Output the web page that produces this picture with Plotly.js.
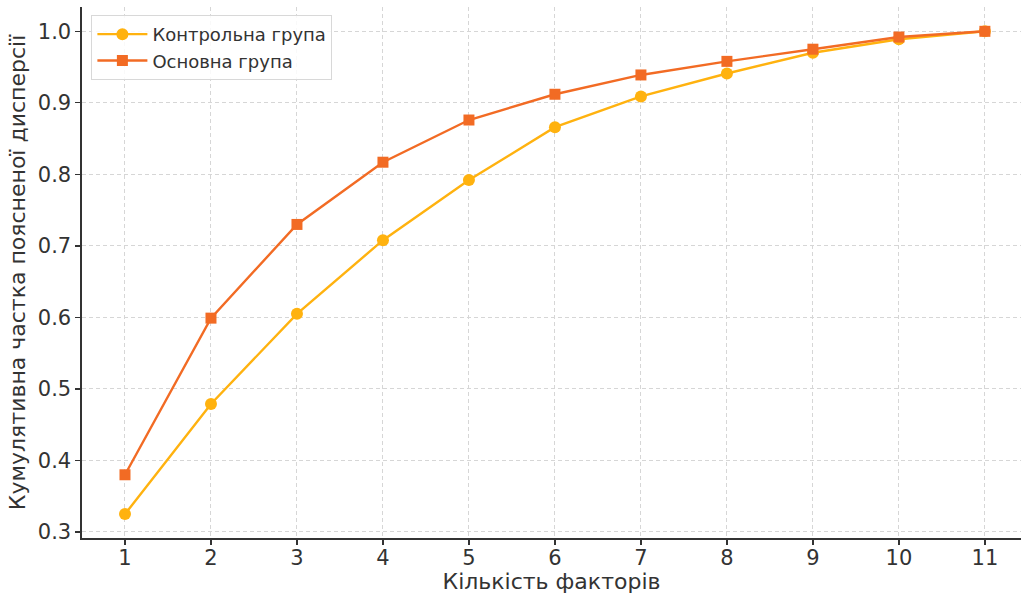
<!DOCTYPE html>
<html>
<head>
<meta charset="utf-8">
<script src="https://cdn.plot.ly/plotly-3.0.1.min.js"></script>
<style>body{margin:0;padding:0;background:#fff}#chart{width:1021px;height:594px}</style>
</head>
<body>
<div id="chart"></div>
<script>
const factors = [1, 2, 3, 4, 5, 6, 7, 8, 9, 10, 11];
const controlGroup = [0.325, 0.479, 0.605, 0.708, 0.792, 0.866, 0.909, 0.941, 0.970, 0.989, 1.0];
const mainGroup = [0.380, 0.599, 0.730, 0.817, 0.876, 0.912, 0.939, 0.958, 0.975, 0.992, 1.0];
const seriesNames = ["Контрольна група", "Основна група"];
const xTitle = "Кількість факторів";
const yTitle = "Кумулятивна частка поясненої дисперсії";

const font = "'DejaVu Sans'";
const traces = [
  {x: factors, y: controlGroup, name: seriesNames[0], type: "scatter", mode: "lines+markers",
   line: {color: "#FFB20F", width: 2.4}, marker: {symbol: "circle", size: 12, color: "#FFB20F"}},
  {x: factors, y: mainGroup, name: seriesNames[1], type: "scatter", mode: "lines+markers",
   line: {color: "#F26B24", width: 2.4}, marker: {symbol: "square", size: 11, color: "#F26B24"}}
];
const layout = {
  width: 1021, height: 594,
  margin: {l: 82, r: 0, t: 7, b: 56},
  paper_bgcolor: "#fff", plot_bgcolor: "#fff",
  font: {family: font, color: "#333", size: 20},
  showlegend: true,
  legend: {x: 0.01, y: 0.985, xanchor: "left", yanchor: "top", bgcolor: "rgba(255,255,255,0.85)",
           bordercolor: "#d8d8d8", borderwidth: 1, font: {family: font, size: 18, color: "#333"},
           tracegroupgap: 4, itemwidth: 50},
  xaxis: {range: [0.5, 11.42], tickvals: factors, ticktext: factors.map(String),
          showline: true, linecolor: "#333", linewidth: 1.6, ticks: "outside", ticklen: 5, tickwidth: 1.3, tickcolor: "#333",
          ticklabelstandoff: -5,
          showgrid: true, gridcolor: "#d6d6d6", griddash: "4px,3px", gridwidth: 1, zeroline: false,
          tickfont: {size: 21, family: font, color: "#333"},
          title: {text: xTitle, font: {size: 22, family: font, color: "#333"}, standoff: 6}},
  yaxis: {range: [0.2916, 1.034], tickvals: [0.3,0.4,0.5,0.6,0.7,0.8,0.9,1.0], ticktext: ["0.3","0.4","0.5","0.6","0.7","0.8","0.9","1.0"],
          showline: true, linecolor: "#333", linewidth: 1.6, ticks: "outside", ticklen: 5, tickwidth: 1.3, tickcolor: "#333",
          showgrid: true, gridcolor: "#d6d6d6", griddash: "4px,3px", gridwidth: 1, zeroline: false,
          tickfont: {size: 21, family: font, color: "#333"},
          title: {text: yTitle, font: {size: 22, family: font, color: "#333"}, standoff: 6}}
};
Plotly.newPlot("chart", traces, layout, {displayModeBar: false, staticPlot: true});
</script>
</body>
</html>
